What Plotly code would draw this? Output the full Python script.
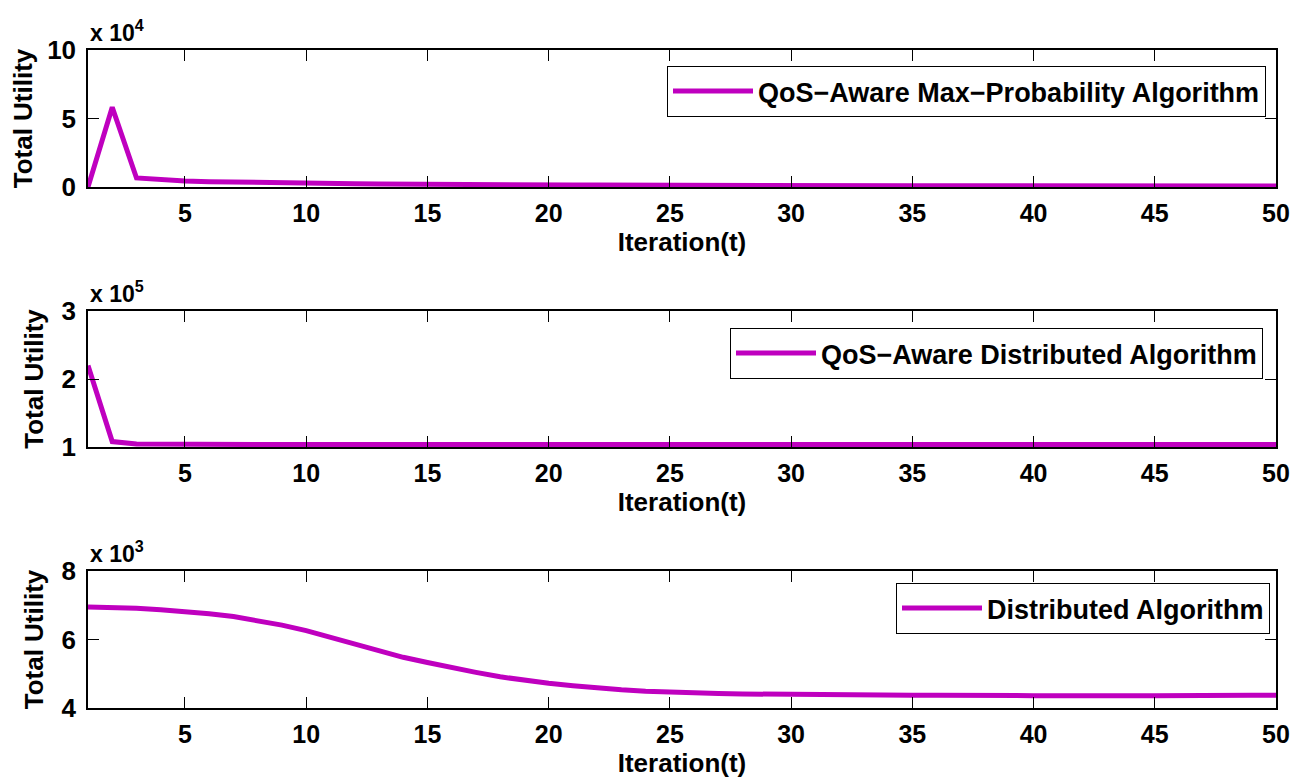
import plotly.graph_objects as go

iters = list(range(1, 51))

maxprob_utility = [0, 58200, 6600, 5300, 4400, 3900, 3500, 3200, 2900, 2700,
                   2500, 2300, 2200, 2000, 1900, 1800, 1700, 1600, 1500, 1500,
                   1400, 1400, 1300, 1300, 1200, 1200, 1200, 1100, 1100, 1100,
                   1000, 1000, 1000, 1000, 900, 900, 900, 900, 900, 800,
                   800, 800, 800, 800, 800, 700, 700, 700, 700, 700]

qos_dist_utility = [220000, 108000, 104500, 104000, 103700, 103600, 103500, 103600, 103500, 103500,
                    103500, 103500, 103500, 103500, 103600, 103500, 103500, 103500, 103500, 103500,
                    103500, 103500, 103500, 103500, 103500, 103500, 103500, 103600, 103700, 103600,
                    103500, 103500, 103500, 103500, 103500, 103500, 103500, 103600, 103700, 103600,
                    103500, 103500, 103500, 103500, 103500, 103700, 103600, 103500, 103500, 103500]

dist_utility = [6950, 6940, 6910, 6870, 6820, 6750, 6670, 6560, 6420, 6260,
                6070, 5870, 5660, 5480, 5330, 5170, 5040, 4910, 4810, 4720,
                4650, 4580, 4530, 4490, 4460, 4440, 4420, 4410, 4400, 4390,
                4380, 4370, 4380, 4370, 4370, 4370, 4360, 4370, 4370, 4360,
                4360, 4370, 4370, 4360, 4360, 4370, 4360, 4360, 4370, 4370]

series_names = ["QoS\u2212Aware Max\u2212Probability Algorithm",
                "QoS\u2212Aware Distributed Algorithm",
                "Distributed Algorithm"]
scales = [1e4, 1e5, 1e3]
exponents = [4, 5, 3]
y_ranges = [[0, 10], [1, 3], [4, 8]]
y_ticks = [[0, 5, 10], [1, 2, 3], [4, 6, 8]]
x_ticks = [5, 10, 15, 20, 25, 30, 35, 40, 45, 50]
xlabel = "Iteration(t)"
ylabel = "Total Utility"

color = "#BF00BF"
FONT = "Liberation Sans, Arial, Helvetica, sans-serif"

# page has an 8px body margin; work in page pixels and convert
OFF = 8
W, H = 1304, 782
PX0, PX1 = 88, 1276          # plot area left/right (page px)
PY0, PY1 = 50, 708           # plot area top/bottom (page px)
L, R, T, B = PX0 - OFF, W - (PX1 - OFF), PY0 - OFF, H - (PY1 - OFF)
pw, ph = PX1 - PX0, PY1 - PY0
panels_px = [(50, 187), (311, 447), (571, 708)]
domains = [[(PY1 - b) / ph, (PY1 - t) / ph] for t, b in panels_px]

fig = go.Figure()
legend_pos = [(1266, 66), (1263, 328), (1270, 583)]
legend_keys = ["legend", "legend2", "legend3"]
datas = [maxprob_utility, qos_dist_utility, dist_utility]

layout = dict(
    width=W, height=H,
    margin=dict(l=L, r=R, t=T, b=B),
    paper_bgcolor="white", plot_bgcolor="white",
    font=dict(family=FONT, size=25, color="black", weight="bold"),
)

annotations = []
for i in range(3):
    xa = "xaxis" if i == 0 else f"xaxis{i+1}"
    ya = "yaxis" if i == 0 else f"yaxis{i+1}"
    xref = "x" if i == 0 else f"x{i+1}"
    yref = "y" if i == 0 else f"y{i+1}"
    fig.add_trace(go.Scatter(
        x=iters, y=[v / scales[i] for v in datas[i]],
        mode="lines", line=dict(color=color, width=5),
        name=series_names[i], xaxis=xref, yaxis=yref,
        legend=legend_keys[i], showlegend=True,
    ))
    layout[xa] = dict(
        domain=[0, 1], anchor=yref, range=[1, 50], tickvals=x_ticks,
        ticks="inside", ticklen=11, tickwidth=1, tickcolor="black",
        showline=True, linecolor="black", linewidth=1.5, mirror="ticks",
        showgrid=False, zeroline=False,
        tickfont=dict(family=FONT, size=25, weight="bold"),
        ticklabelstandoff=3,
        title=dict(text=xlabel, font=dict(family=FONT, size=26, weight="bold"), standoff=2),
    )
    layout[ya] = dict(
        domain=domains[i], anchor=xref, range=y_ranges[i], tickvals=y_ticks[i],
        ticks="inside", ticklen=11, tickwidth=1, tickcolor="black",
        showline=True, linecolor="black", linewidth=1.5, mirror="ticks",
        showgrid=False, zeroline=False,
        tickfont=dict(family=FONT, size=26, weight="bold"),
        ticklabelstandoff=5,
        title=dict(text=ylabel, font=dict(family=FONT, size=26, weight="bold"), standoff=10),
    )
    lx, ly = legend_pos[i]
    layout[legend_keys[i]] = dict(
        x=(lx - PX0) / pw, y=(PY1 - ly) / ph,
        xanchor="right", yanchor="top", xref="paper", yref="paper",
        bgcolor="white", bordercolor="black", borderwidth=1,
        font=dict(family=FONT, size=27, weight="bold"),
        itemwidth=80,
    )
    annotations.append(dict(
        text=f"x 10<sup>{exponents[i]}</sup>", xref="paper", yref="paper",
        x=0, y=domains[i][1], xanchor="left", yanchor="bottom", yshift=2,
        showarrow=False, font=dict(family=FONT, size=23, weight="bold"),
    ))

layout["annotations"] = annotations
fig.update_layout(**layout)
fig.write_html("out.html")
